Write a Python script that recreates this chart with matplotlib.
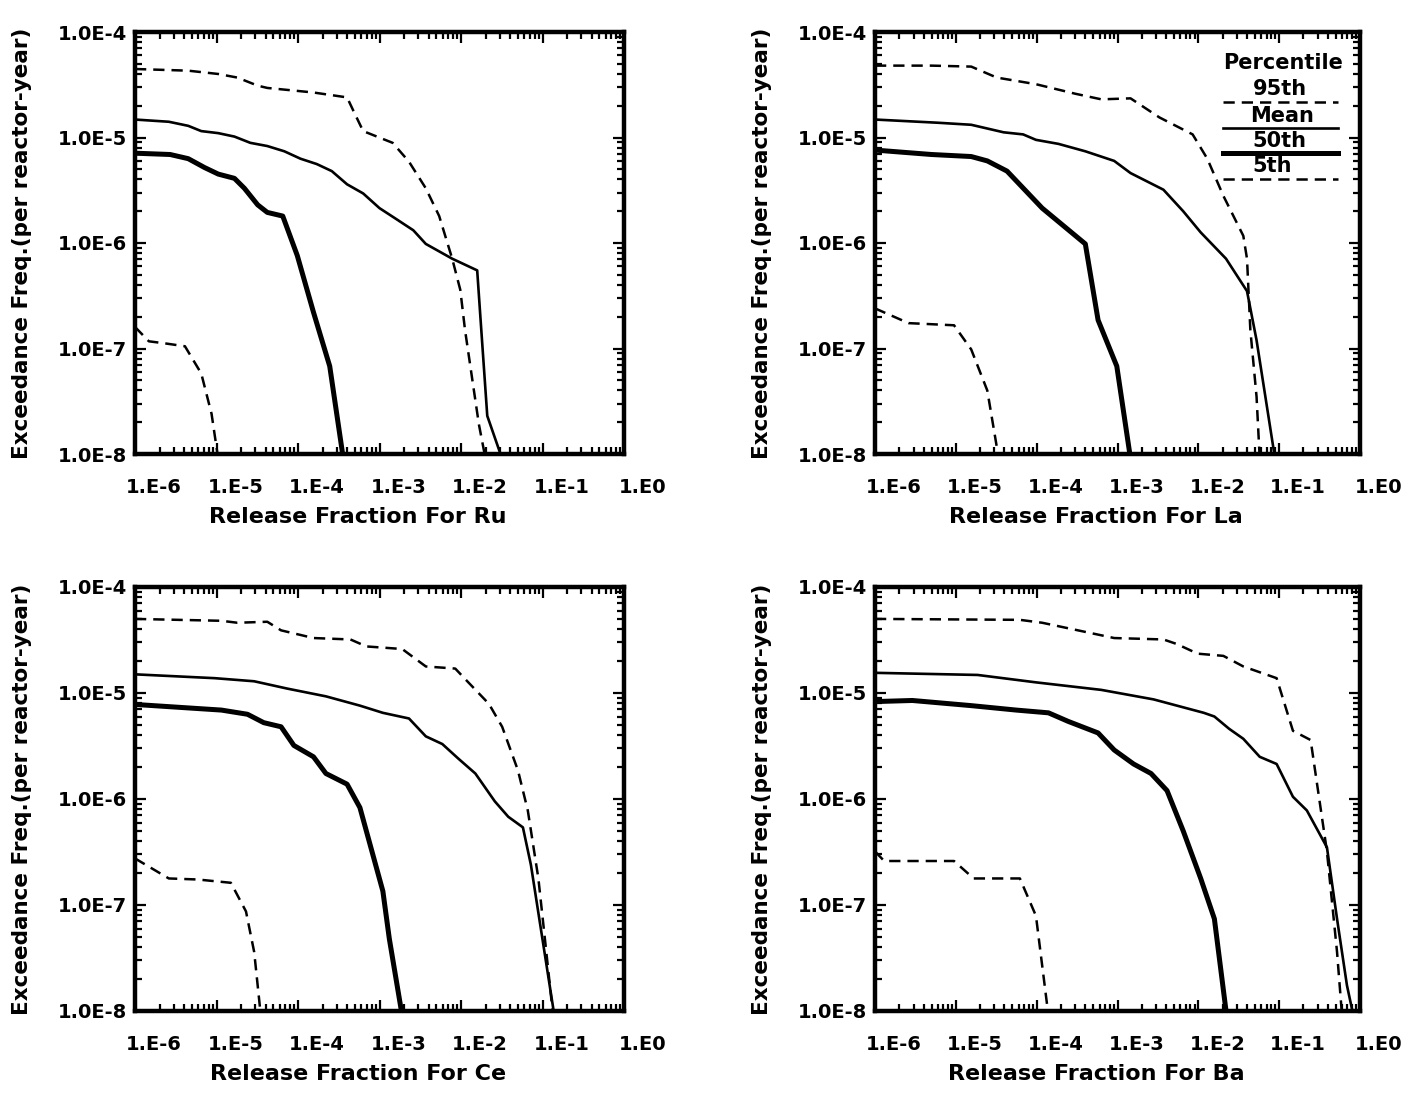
import matplotlib
matplotlib.use("Agg")
import matplotlib.pyplot as plt
import matplotlib.transforms as mtransforms
from matplotlib.ticker import LogLocator, NullFormatter

plt.rcParams['font.family'] = ['DejaVu Sans']
plt.rcParams['font.weight'] = 'bold'

# ---------------- data ----------------
elements = ['Ru', 'La', 'Ce', 'Ba']

xtick_vals = [1e-6, 1e-5, 1e-4, 1e-3, 1e-2, 1e-1, 1e0]
xtick_labels = ['1.E-6', '1.E-5', '1.E-4', '1.E-3', '1.E-2', '1.E-1', '1.E0']
ytick_vals = [1e-8, 1e-7, 1e-6, 1e-5, 1e-4]
ytick_labels = ['1.0E-8', '1.0E-7', '1.0E-6', '1.0E-5', '1.0E-4']

# Ru
ru_p95_x = [1.0e-6, 4.5e-6, 1.05e-5, 1.8e-5, 3.2e-5, 4.2e-5, 1.55e-4, 4.0e-4, 4.8e-4, 6.3e-4,
            1.45e-3, 2.3e-3, 3.7e-3, 5.4e-3, 7.8e-3, 9.8e-3, 1.12e-2, 1.38e-2, 1.66e-2, 2.0e-2]
ru_p95_y = [4.46e-5, 4.3e-5, 4.0e-5, 3.7e-5, 3.1e-5, 2.95e-5, 2.67e-5, 2.4e-5, 1.78e-5, 1.15e-5,
            8.9e-6, 5.9e-6, 3.3e-6, 1.8e-6, 7.1e-7, 3.6e-7, 1.5e-7, 5.0e-8, 1.9e-8, 9.0e-9]
ru_mean_x = [1.0e-6, 2.6e-6, 4.5e-6, 6.5e-6, 1.05e-5, 1.66e-5, 2.6e-5, 4.2e-5, 6.8e-5, 1.07e-4,
             1.7e-4, 2.6e-4, 4.0e-4, 6.3e-4, 1.0e-3, 1.58e-3, 2.6e-3, 3.7e-3, 7.8e-3, 1.58e-2,
             1.74e-2, 2.1e-2, 3.2e-2]
ru_mean_y = [1.48e-5, 1.41e-5, 1.29e-5, 1.15e-5, 1.10e-5, 1.02e-5, 8.9e-6, 8.3e-6, 7.4e-6, 6.3e-6,
             5.6e-6, 4.8e-6, 3.6e-6, 2.95e-6, 2.14e-6, 1.7e-6, 1.32e-6, 9.8e-7, 7.1e-7, 5.5e-7,
             1.86e-7, 2.3e-8, 9.0e-9]
ru_p50_x = [1.0e-6, 2.7e-6, 4.5e-6, 7.1e-6, 1.05e-5, 1.66e-5, 2.2e-5, 3.2e-5, 4.2e-5, 6.5e-5,
            9.8e-5, 1.55e-4, 2.45e-4, 3.6e-4]
ru_p50_y = [7.1e-6, 6.9e-6, 6.3e-6, 5.2e-6, 4.5e-6, 4.1e-6, 3.3e-6, 2.3e-6, 1.95e-6, 1.8e-6,
            7.6e-7, 2.2e-7, 6.8e-8, 9.0e-9]
ru_p05_x = [1.0e-6, 1.48e-6, 2.3e-6, 4.1e-6, 6.5e-6, 8.7e-6, 1.05e-5]
ru_p05_y = [1.6e-7, 1.17e-7, 1.12e-7, 1.05e-7, 5.8e-8, 2.4e-8, 9.0e-9]

# La
la_p95_x = [1.0e-6, 5.0e-6, 1.55e-5, 3.2e-5, 9.8e-5, 3.0e-4, 6.3e-4, 1.45e-3, 3.3e-3, 8.5e-3,
            1.29e-2, 2.04e-2, 3.6e-2, 4.0e-2, 4.4e-2, 5.25e-2, 5.75e-2]
la_p95_y = [4.8e-5, 4.8e-5, 4.7e-5, 3.7e-5, 3.2e-5, 2.6e-5, 2.3e-5, 2.35e-5, 1.55e-5, 1.07e-5,
            6.3e-6, 2.8e-6, 1.17e-6, 7.1e-7, 1.5e-7, 3.5e-8, 9.0e-9]
la_mean_x = [1.0e-6, 6.0e-6, 1.55e-5, 3.9e-5, 6.8e-5, 9.8e-5, 1.86e-4, 4.0e-4, 9.1e-4, 1.45e-3,
             3.7e-3, 6.5e-3, 1.07e-2, 2.2e-2, 4.0e-2, 5.25e-2, 8.9e-2]
la_mean_y = [1.48e-5, 1.38e-5, 1.32e-5, 1.12e-5, 1.07e-5, 9.5e-6, 8.7e-6, 7.4e-6, 6.0e-6, 4.6e-6,
             3.2e-6, 2.0e-6, 1.26e-6, 7.1e-7, 3.5e-7, 1.2e-7, 9.0e-9]
la_p50_x = [1.0e-6, 5.0e-6, 1.55e-5, 2.45e-5, 4.3e-5, 1.17e-4, 4.0e-4, 5.75e-4, 9.8e-4, 1.45e-3]
la_p50_y = [7.6e-6, 6.9e-6, 6.6e-6, 6.0e-6, 4.8e-6, 2.14e-6, 9.8e-7, 1.86e-7, 6.8e-8, 9.0e-9]
la_p05_x = [1.0e-6, 2.6e-6, 9.5e-6, 1.55e-5, 2.45e-5, 3.4e-5]
la_p05_y = [2.4e-7, 1.74e-7, 1.66e-7, 9.8e-8, 4.0e-8, 9.0e-9]

# Ce
ce_p95_x = [1.0e-6, 1.15e-5, 1.8e-5, 4.2e-5, 6.2e-5, 1.55e-4, 4.4e-4, 6.9e-4, 1.9e-3, 3.7e-3,
            8.5e-3, 1.23e-2, 2.2e-2, 3.2e-2, 5.0e-2, 6.6e-2, 8.9e-2, 1.07e-1, 1.35e-1]
ce_p95_y = [5.0e-5, 4.8e-5, 4.6e-5, 4.7e-5, 3.9e-5, 3.3e-5, 3.2e-5, 2.75e-5, 2.6e-5, 1.78e-5,
            1.7e-5, 1.26e-5, 7.9e-6, 4.8e-6, 1.86e-6, 7.8e-7, 1.78e-7, 4.8e-8, 9.0e-9]
ce_mean_x = [1.0e-6, 9.5e-6, 2.9e-5, 7.4e-5, 2.2e-4, 5.75e-4, 1.1e-3, 2.3e-3, 3.7e-3, 5.9e-3,
             9.3e-3, 1.5e-2, 2.6e-2, 3.8e-2, 5.75e-2, 7.2e-2, 1.4e-1]
ce_mean_y = [1.5e-5, 1.38e-5, 1.29e-5, 1.1e-5, 9.3e-6, 7.6e-6, 6.5e-6, 5.75e-6, 3.9e-6, 3.3e-6,
             2.4e-6, 1.74e-6, 9.5e-7, 6.8e-7, 5.4e-7, 2.4e-7, 9.0e-9]
ce_p50_x = [1.0e-6, 6.5e-6, 1.15e-5, 2.4e-5, 3.8e-5, 6.2e-5, 8.9e-5, 1.55e-4, 2.2e-4, 4.0e-4,
            5.75e-4, 1.1e-3, 1.32e-3, 1.9e-3]
ce_p50_y = [7.8e-6, 7.1e-6, 6.9e-6, 6.3e-6, 5.25e-6, 4.8e-6, 3.2e-6, 2.5e-6, 1.74e-6, 1.38e-6,
            8.3e-7, 1.35e-7, 4.8e-8, 9.0e-9]
ce_p05_x = [1.0e-6, 2.6e-6, 5.9e-6, 1.5e-5, 2.3e-5, 2.9e-5, 3.5e-5]
ce_p05_y = [2.75e-7, 1.78e-7, 1.74e-7, 1.62e-7, 8.7e-8, 3.6e-8, 9.0e-9]

# Ba
ba_p95_x = [1.0e-6, 6.2e-5, 1.17e-4, 9.1e-4, 3.7e-3, 5.4e-3, 9.8e-3, 2.04e-2, 3.6e-2, 9.3e-2,
            1.48e-1, 2.45e-1, 3.9e-1, 5.2e-1, 6.0e-1]
ba_p95_y = [5.0e-5, 4.9e-5, 4.6e-5, 3.3e-5, 3.2e-5, 2.9e-5, 2.35e-5, 2.24e-5, 1.78e-5, 1.38e-5,
            4.4e-6, 3.6e-6, 3.2e-7, 3.6e-8, 9.0e-9]
ba_mean_x = [1.0e-6, 1.86e-5, 9.8e-5, 6.3e-4, 2.8e-3, 1.17e-2, 1.58e-2, 2.4e-2, 3.6e-2, 5.75e-2,
             9.3e-2, 1.48e-1, 2.2e-1, 3.9e-1, 5.2e-1, 6.9e-1, 8.3e-1]
ba_mean_y = [1.55e-5, 1.48e-5, 1.26e-5, 1.07e-5, 8.7e-6, 6.5e-6, 6.0e-6, 4.6e-6, 3.7e-6, 2.5e-6,
             2.14e-6, 1.05e-6, 7.8e-7, 3.5e-7, 7.4e-8, 1.74e-8, 9.0e-9]
ba_p50_x = [1.0e-6, 2.9e-6, 1.55e-5, 5.6e-5, 1.4e-4, 2.45e-4, 5.75e-4, 9.1e-4, 1.58e-3, 2.6e-3,
            4.1e-3, 6.5e-3, 1.07e-2, 1.58e-2, 2.24e-2]
ba_p50_y = [8.3e-6, 8.5e-6, 7.6e-6, 6.9e-6, 6.5e-6, 5.4e-6, 4.2e-6, 2.9e-6, 2.14e-6, 1.74e-6,
            1.2e-6, 5.0e-7, 1.78e-7, 7.4e-8, 9.0e-9]
ba_p05_x = [1.0e-6, 1.3e-6, 9.5e-6, 1.66e-5, 6.2e-5, 9.8e-5, 1.4e-4]
ba_p05_y = [3.2e-7, 2.6e-7, 2.6e-7, 1.78e-7, 1.78e-7, 7.9e-8, 9.0e-9]

series = {
    'Ru': [(ru_p95_x, ru_p95_y), (ru_mean_x, ru_mean_y), (ru_p50_x, ru_p50_y), (ru_p05_x, ru_p05_y)],
    'La': [(la_p95_x, la_p95_y), (la_mean_x, la_mean_y), (la_p50_x, la_p50_y), (la_p05_x, la_p05_y)],
    'Ce': [(ce_p95_x, ce_p95_y), (ce_mean_x, ce_mean_y), (ce_p50_x, ce_p50_y), (ce_p05_x, ce_p05_y)],
    'Ba': [(ba_p95_x, ba_p95_y), (ba_mean_x, ba_mean_y), (ba_p50_x, ba_p50_y), (ba_p05_x, ba_p05_y)],
}
legend_labels = ['95th', 'Mean', '50th', '5th']

# ---------------- styles ----------------
DASH = (0, (4.5, 2.8))
styles = [dict(ls=DASH, lw=1.8), dict(ls='-', lw=1.9), dict(ls='-', lw=3.6), dict(ls=DASH, lw=1.8)]

W, H = 1401, 1100
fig = plt.figure(figsize=(W / 100, H / 100), dpi=100)

# axes boxes in pixels: (left, top, right, bottom)
boxes = {
    'Ru': (135, 32, 624, 454),
    'La': (875, 32, 1360, 454),
    'Ce': (135, 587, 624, 1011),
    'Ba': (875, 587, 1360, 1011),
}

for el in elements:
    l, t, r, b = boxes[el]
    ax = fig.add_axes([l / W, 1 - b / H, (r - l) / W, (b - t) / H])
    ax.set_xscale('log')
    ax.set_yscale('log')
    ax.set_xlim(1e-6, 1e0)
    ax.set_ylim(1e-8, 1e-4)
    for (xs, ys), st in zip(series[el], styles):
        ax.plot(xs, ys, color='black', solid_joinstyle='round', dash_capstyle='butt', **st)

    for s in ax.spines.values():
        s.set_linewidth(3.2)
    ax.xaxis.set_minor_locator(LogLocator(base=10, subs=range(2, 10), numticks=20))
    ax.yaxis.set_minor_locator(LogLocator(base=10, subs=range(2, 10), numticks=20))
    ax.xaxis.set_minor_formatter(NullFormatter())
    ax.yaxis.set_minor_formatter(NullFormatter())
    ax.set_xticks(xtick_vals, xtick_labels)
    ax.set_yticks(ytick_vals, ytick_labels)
    ax.tick_params(which='both', direction='in', top=True, right=True, width=1.6)
    ax.tick_params(which='major', length=8)
    ax.tick_params(which='minor', length=5)
    ax.tick_params(axis='x', which='major', pad=17, labelsize=14)
    ax.tick_params(axis='y', which='major', pad=6, labelsize=14)
    offset = mtransforms.ScaledTranslation(0.19, 0, fig.dpi_scale_trans)
    for lab in ax.get_xticklabels():
        lab.set_transform(lab.get_transform() + offset)
        lab.set_fontweight('bold')
    for lab in ax.get_yticklabels():
        lab.set_fontweight('bold')

    ax.set_xlabel(f'Release Fraction For {el}', fontsize=16, fontweight='bold')
    ax.xaxis.set_label_coords(0.456, -63 / (b - t))
    ax.xaxis.label.set_va('center')
    ax.set_ylabel('Exceedance Freq.(per reactor-year)', fontsize=15.5, fontweight='bold')
    ax.yaxis.set_label_coords(-(l - (22 if l < 500 else 762)) / (r - l), 0.5)
    ax.yaxis.label.set_va('center')

    if el == 'La':
        def ax_xy(px, py):
            return ((px - l) / (r - l), 1 - (py - t) / (b - t))
        ax.text(*ax_xy(1283, 63), 'Percentile', transform=ax.transAxes, ha='center', va='center',
                fontsize=15, fontweight='bold')
        text_pos = [(1280, 89), (1282, 116), (1279, 141), (1272, 166)]
        line_y = [102, 128, 153, 179]
        for i, lab in enumerate(legend_labels):
            ax.text(*ax_xy(*text_pos[i]), lab, transform=ax.transAxes, ha='center', va='center',
                    fontsize=15, fontweight='bold')
            x0, y0 = ax_xy(1223, line_y[i])
            x1, _ = ax_xy(1338, line_y[i])
            ax.plot([x0, x1], [y0, y0], transform=ax.transAxes, color='black', **styles[i])

fig.savefig('out.png', dpi=100)
